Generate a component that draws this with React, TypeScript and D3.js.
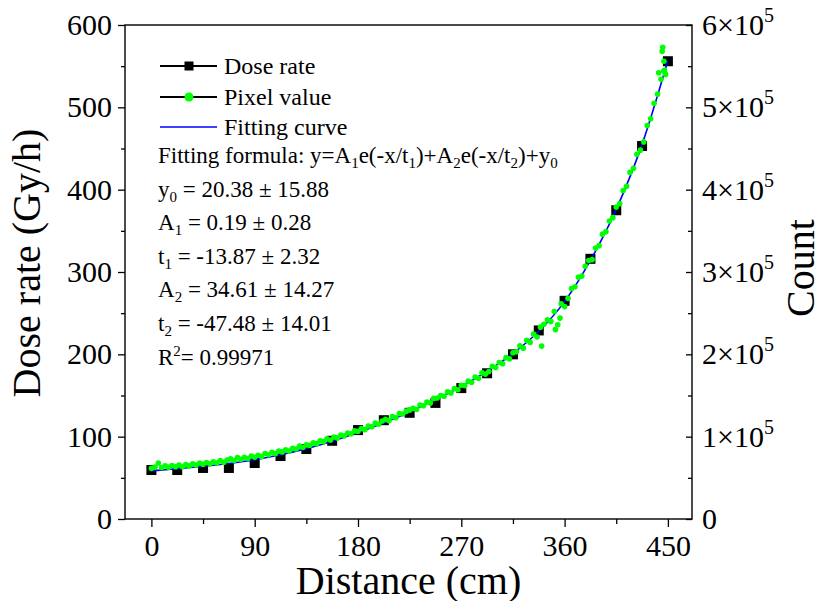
import React, { useEffect, useRef } from 'react';
import * as d3 from 'd3';

// dose rate measurements (Gy/h) and the fitted curve, at each distance (cm)
const distance = [0, 22.5, 45, 67.5, 90, 112.5, 135, 157.5, 180, 202.5, 225, 247.5, 270, 292.5, 315, 337.5, 360, 382.5, 405, 427.5, 450];
const doseRate = [59.5, 59.5, 62, 62, 68, 76.5, 85, 95, 108, 120, 129, 141, 159, 177, 200, 229, 265, 316, 375, 453, 556];
const fitCurve = [58.5, 61, 64, 67.5, 72, 78, 85.5, 94.5, 105, 117, 130, 145, 161, 179.5, 201, 228, 264, 314, 376, 455, 557];

// pixel value (count, in thousands), one point every 3 cm from 0 to 447
const pixelK = [
  61.5, 63, 68, 62.5, 64.5, 63, 65, 63.5,
  65.5, 63.5, 66, 64.5, 67, 65.5, 68, 66.5,
  68.5, 67, 69.5, 68, 71, 69, 71.5,
  73, 71, 74.5, 72.5, 75, 73.5, 76.5, 75,
  77.5, 76, 79.5, 78, 81, 79.5, 82.5,
  81.5, 84, 82.5, 86, 85, 88.5, 87, 90,
  89.5, 92.5, 91.5, 95, 94, 97.5, 96,
  99.5, 98.5, 102, 101, 104.5, 103.5, 107, 106.5,
  110, 108.5, 113, 112, 116.5, 115, 119,
  121, 119.5, 124.5, 123, 128, 127.5, 131, 132.5,
  134.5, 133, 138.5, 137.5, 142, 141, 146.5,
  147, 150, 149, 154.5, 153, 158.5, 157, 162.5,
  162, 167.5, 166, 172.5, 171, 177.5, 176,
  179, 185.5, 184, 190, 188.5, 196, 194.5, 202,
  203, 210.5, 207.5, 217, 214.5, 224.5, 221,
  233, 236.5, 242, 240, 252, 236, 261.5, 258,
  268, 280, 282, 293.5, 295, 307, 314,
  315, 329, 332, 346, 349, 362, 366, 379,
  383, 399, 404, 421, 426, 443, 448,
  458, 478, 486, 505, 516, 534, 545,
];
// a few scattered pixel points read separately
const extraDistance = [340, 352, 356, 442, 448, 446.5, 446.5, 445, 445.5];
const extraK = [210, 230, 244, 542, 540, 544, 556, 568, 573];

const xTicks = [0, 90, 180, 270, 360, 450];
const yTicks = [0, 100, 200, 300, 400, 500, 600];
const countTicks = [0, 1, 2, 3, 4, 5, 6];

const formulaLines = [
  ['y', '0', ' = 20.38 \u00b1 15.88'],
  ['A', '1', ' = 0.19 \u00b1 0.28'],
  ['t', '1', ' = -13.87 \u00b1 2.32'],
  ['A', '2', ' = 34.61 \u00b1 14.27'],
  ['t', '2', ' = -47.48 \u00b1 14.01'],
];

const font = '"Liberation Serif", "Times New Roman", Times, "DejaVu Serif", serif';

export default function App() {
  const ref = useRef<SVGSVGElement>(null);

  useEffect(() => {
    const svg = d3.select(ref.current);
    svg.selectAll('*').remove();

    const left = 125, right = 692, top = 25, bottom = 519;
    const x = d3.scaleLinear().domain([-23, 471]).range([left, right]);
    const y = d3.scaleLinear().domain([0, 600]).range([bottom, top]);
    const yCount = d3.scaleLinear().domain([0, 600000]).range([bottom, top]);

    const g = svg.append('g').style('font-family', font);

    // frame
    g.append('rect')
      .attr('x', left).attr('y', top)
      .attr('width', right - left).attr('height', bottom - top)
      .attr('fill', 'none').attr('stroke', '#000').attr('stroke-width', 1.4);

    // bottom axis
    const xAxis = g.append('g').attr('transform', `translate(0,${bottom})`)
      .call(d3.axisBottom(x).tickValues(xTicks).tickSize(8).tickSizeOuter(0).tickPadding(8).tickFormat(d3.format('d')));
    const xMinor = g.append('g').attr('transform', `translate(0,${bottom})`)
      .call(d3.axisBottom(x).tickValues(d3.range(45, 450, 90)).tickSize(5).tickSizeOuter(0).tickFormat(() => ''));

    // left axis
    const yAxis = g.append('g').attr('transform', `translate(${left},0)`)
      .call(d3.axisLeft(y).tickValues(yTicks).tickSize(7).tickSizeOuter(0).tickPadding(6));
    const yMinor = g.append('g').attr('transform', `translate(${left},0)`)
      .call(d3.axisLeft(y).tickValues(d3.range(50, 600, 100)).tickSize(4).tickSizeOuter(0).tickFormat(() => ''));

    // right axis, ticks inward
    const rAxis = g.append('g').attr('transform', `translate(${right},0)`)
      .call(d3.axisRight(yCount).tickValues(countTicks.map(d => d * 100000)).tickSize(-6).tickSizeOuter(0).tickFormat(() => ''));
    const rMinor = g.append('g').attr('transform', `translate(${right},0)`)
      .call(d3.axisRight(yCount).tickValues(d3.range(50000, 600000, 100000)).tickSize(-4).tickSizeOuter(0).tickFormat(() => ''));

    [xAxis, xMinor, yAxis, yMinor, rAxis, rMinor].forEach(a => {
      a.attr('font-family', null).attr('font-size', null);
      a.select('.domain').remove();
      a.selectAll('line').attr('stroke', '#000').attr('stroke-width', 1.3);
      a.selectAll('text').style('font-family', font).style('font-size', '30px').attr('fill', '#000');
    });

    const rLabels = g.append('g').attr('fill', '#000');
    countTicks.forEach(c => {
      const t = rLabels.append('text')
        .attr('x', right + 10)
        .attr('y', yCount(c * 100000) + 10)
        .style('font-size', '30px');
      if (c === 0) {
        t.text('0');
      } else {
        t.append('tspan').text(`${c}\u00d710`);
        t.append('tspan').style('font-size', '20px').attr('dy', -13).text('5');
      }
    });

    // axis titles
    g.append('text')
      .attr('transform', `translate(40,263) rotate(-90)`)
      .attr('text-anchor', 'middle')
      .style('font-size', '40px')
      .text('Dose rate (Gy/h)');
    g.append('text')
      .attr('transform', `translate(814,268) rotate(-90)`)
      .attr('text-anchor', 'middle')
      .style('font-size', '40px')
      .text('Count');
    g.append('text')
      .attr('x', (left + right) / 2).attr('y', 594)
      .attr('text-anchor', 'middle')
      .style('font-size', '40px')
      .text('Distance (cm)');

    // dose rate squares
    const sq = 10;
    g.append('g').selectAll('rect')
      .data(distance)
      .enter().append('rect')
      .attr('x', d => x(d) - sq / 2)
      .attr('y', (d, i) => y(doseRate[i]) - sq / 2)
      .attr('width', sq).attr('height', sq)
      .attr('fill', '#000');

    // fitting curve
    const line = d3.line<number>()
      .x(d => x(d))
      .y((d, i) => y(fitCurve[i]))
      .curve(d3.curveMonotoneX);
    g.append('path')
      .datum(distance)
      .attr('d', line)
      .attr('fill', 'none')
      .attr('stroke', '#0000ff')
      .attr('stroke-width', 1.6);

    // pixel value points
    const pixelDistance = d3.range(0, 448, 3);
    const pts = pixelDistance.map((d, i) => [d, pixelK[i] * 1000])
      .concat(extraDistance.map((d, i) => [d, extraK[i] * 1000]));
    g.append('g').selectAll('circle')
      .data(pts)
      .enter().append('circle')
      .attr('cx', d => x(d[0]))
      .attr('cy', d => yCount(d[1]))
      .attr('r', 2.8)
      .attr('fill', '#00ff00');

    // legend
    const lg = g.append('g').style('font-size', '24px');
    const rows = [66, 97, 127];
    rows.forEach((ry, i) => {
      lg.append('line')
        .attr('x1', 160).attr('x2', 217).attr('y1', ry).attr('y2', ry)
        .attr('stroke', i === 2 ? '#0000ff' : '#000').attr('stroke-width', i === 2 ? 1.6 : 2);
    });
    lg.append('rect').attr('x', 189 - 4.5).attr('y', rows[0] - 4.5).attr('width', 9).attr('height', 9).attr('fill', '#000');
    lg.append('circle').attr('cx', 189).attr('cy', rows[1]).attr('r', 4.5).attr('fill', '#00ff00');
    ['Dose rate', 'Pixel value', 'Fitting curve'].forEach((t, i) => {
      lg.append('text').attr('x', 224).attr('y', rows[i] + 7.5).text(t);
    });

    // fitting formula and parameters
    const fg = g.append('g').style('font-size', '23px');
    const f = fg.append('text').attr('x', 158).attr('y', 163);
    const parts: [string, string][] = [
      ['Fitting formula: y=A', ''], ['1', 'sub'], ['e(-x/t', ''], ['1', 'sub'], [')+A', ''],
      ['2', 'sub'], ['e(-x/t', ''], ['2', 'sub'], [')+y', ''], ['0', 'sub'],
    ];
    let shifted = false;
    parts.forEach(([s, k]) => {
      const ts = f.append('tspan').text(s);
      if (k === 'sub') {
        ts.style('font-size', '15px').attr('dy', 5);
        shifted = true;
      } else if (shifted) {
        ts.attr('dy', -5);
        shifted = false;
      }
    });
    formulaLines.forEach((p, i) => {
      const t = fg.append('text').attr('x', 158).attr('y', 196.6 + i * 33.6);
      t.append('tspan').text(p[0]);
      t.append('tspan').style('font-size', '15px').attr('dy', 5).text(p[1]);
      t.append('tspan').attr('dy', -5).text(p[2]);
    });
    const r2 = fg.append('text').attr('x', 158).attr('y', 196.6 + 5 * 33.6);
    r2.append('tspan').text('R');
    r2.append('tspan').style('font-size', '15px').attr('dy', -9).text('2');
    r2.append('tspan').attr('dy', 9).text('= 0.99971');
  }, []);

  return (
    <svg
      ref={ref}
      width={822}
      height={601}
      style={{ position: 'absolute', left: 0, top: 0, background: '#fff' }}
    />
  );
}
